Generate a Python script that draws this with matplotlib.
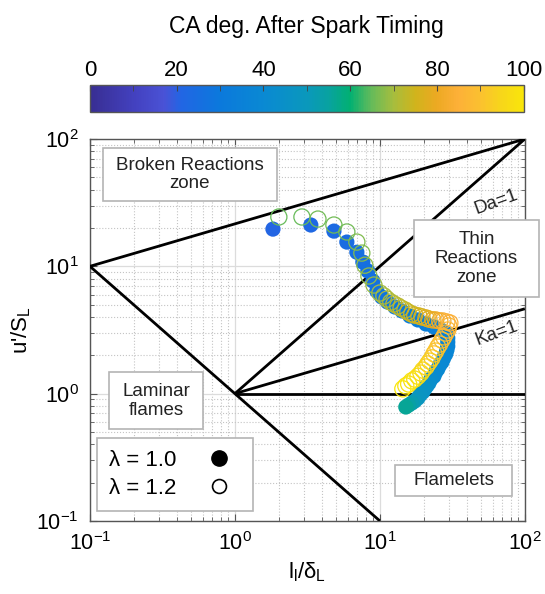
import numpy as np
import matplotlib
matplotlib.use("Agg")
import matplotlib.pyplot as plt
from matplotlib.colors import LinearSegmentedColormap
from matplotlib.lines import Line2D
from matplotlib.patches import Rectangle
from matplotlib.ticker import LogLocator, MultipleLocator

plt.rcParams['font.family'] = ['Liberation Sans', 'DejaVu Sans']
plt.rcParams['mathtext.default'] = 'regular'
plt.rcParams['axes.unicode_minus'] = False

# lambda = 1.0 (filled markers): l/delta_L, u'/S_L, CA deg after spark
x_lam10 = [1.83, 3.34, 4.82, 5.92, 6.94, 7.63, 8.26, 8.95, 9.53, 10.3,
           11.3, 12.7, 14.2, 16.1, 18.3, 20.8, 23.6, 26.4, 29.0,
           29.4, 29.4, 29.4, 29.0, 28.5, 27.6, 26.8, 25.9, 25.1, 24.3,
           23.6, 22.5, 21.8, 21.1, 20.4, 19.8, 18.9, 18.3, 17.4, 16.6,
           15.8, 15.1]
y_lam10 = [19.6, 21.1, 18.9, 15.5, 12.9, 10.8, 9.19, 7.67, 6.40, 5.74,
           5.24, 4.79, 4.46, 4.07, 3.79, 3.52, 3.34, 3.16, 2.94,
           2.73, 2.54, 2.36, 2.20, 2.05, 1.91, 1.77, 1.68, 1.56, 1.48,
           1.37, 1.30, 1.21, 1.15, 1.09, 1.03, 0.975, 0.923, 0.875, 0.843,
           0.813, 0.785]
c_lam10 = [21, 22, 23, 24, 25, 25, 26, 26, 27, 28,
           28, 29, 30, 31, 32, 33, 34, 35, 36,
           36, 37, 37, 38, 38, 39, 39, 40, 40, 41,
           41, 42, 43, 44, 45, 46, 47, 48, 50, 52,
           54, 56]

# lambda = 1.2 (open markers)
x_lam12 = [2.01, 2.90, 3.74, 4.82, 5.92, 6.94, 7.51, 7.88, 8.40, 9.10,
           10.0, 10.66, 11.2, 11.9, 12.5, 13.3, 14.0, 14.9, 15.6, 16.6,
           17.4, 18.6, 19.5, 20.8, 21.8, 23.2, 24.3, 25.9, 27.2, 29.0,
           30.4,
           29.9, 29.4, 28.5, 27.6, 26.8, 25.9, 25.1, 24.3, 23.6, 22.9,
           22.1, 21.4, 20.8, 19.8, 19.2, 18.3, 17.4, 16.6, 15.8, 15.1,
           14.4]
y_lam12 = [24.4, 24.4, 23.5, 21.1, 18.6, 15.5, 12.7, 10.2, 8.39, 7.13,
           6.17, 5.85, 5.53, 5.24, 5.06, 4.88, 4.70, 4.54, 4.38, 4.22,
           4.14, 4.07, 4.00, 3.93, 3.85, 3.79, 3.79, 3.72, 3.72, 3.65,
           3.59,
           3.40, 3.16, 2.99, 2.79, 2.64, 2.45, 2.32, 2.16, 2.05, 1.91,
           1.80, 1.71, 1.62, 1.53, 1.45, 1.37, 1.30, 1.26, 1.19, 1.15,
           1.09]
c_lam12 = [65, 65, 66, 66, 66, 67, 67, 68, 68, 69,
           70, 70, 71, 71, 72, 72, 73, 73, 74, 74,
           75, 75, 76, 77, 78, 79, 80, 82, 83, 84,
           85,
           86, 87, 87, 88, 89, 89, 90, 91, 91, 92,
           93, 93, 94, 95, 96, 97, 97, 98, 99, 99,
           100]

# regime boundaries (x pairs, y pairs)
regime_lines = {
    'Re=1':   ([0.1, 10], [10, 0.1]),
    'Ka=100': ([0.1, 100], [10, 100]),
    'Da=1':   ([1, 100], [1, 100]),
    'Ka=1':   ([1, 100], [1, 4.64]),
    "u'=SL":  ([1, 100], [1, 1]),
}

cb_ticks = [0, 20, 40, 60, 80, 100]

cmap = LinearSegmentedColormap.from_list('ca', [
    (0.00, '#382e92'), (0.10, '#4341bf'), (0.17, '#4a52d6'),
    (0.21, '#2166e4'), (0.30, '#0b79dc'), (0.40, '#0a89d3'),
    (0.50, '#0a98bc'), (0.55, '#08a2a0'), (0.60, '#02b072'),
    (0.65, '#66bb5a'), (0.70, '#a6bd3e'), (0.75, '#d0b41c'),
    (0.80, '#eca922'), (0.85, '#fdb038'), (0.90, '#fbc030'),
    (0.95, '#f7d61a'), (1.00, '#f9e60a')])

fig = plt.figure(figsize=(5.45, 5.94), dpi=100)
ax = fig.add_axes([0.165, 0.123, 0.798, 0.643])

for name, (xs, ys) in regime_lines.items():
    ax.plot(xs, ys, color='black', lw=2.0, zorder=3, solid_capstyle='butt')

sc = ax.scatter(x_lam10, y_lam10, c=c_lam10, cmap=cmap, vmin=0, vmax=100,
                s=120, edgecolors='none', zorder=4)
ax.scatter(x_lam12, y_lam12, facecolors='none',
           edgecolors=cmap(np.array(c_lam12) / 100.0),
           s=135, linewidths=0.9, zorder=5)

ax.set_xscale('log')
ax.set_yscale('log')
ax.set_xlim(0.1, 100)
ax.set_ylim(0.1, 100)
ax.xaxis.set_minor_locator(LogLocator(base=10, subs=np.arange(2, 10)))
ax.yaxis.set_minor_locator(LogLocator(base=10, subs=np.arange(2, 10)))
ax.grid(True, which='major', color='#dcdcdc', lw=0.9, ls='-')
ax.grid(True, which='minor', color='#c4c4c4', lw=0.8, ls=':')
ax.set_axisbelow(True)
ax.tick_params(which='both', direction='in', top=True, right=True,
               colors='#555555', labelcolor='black', labelsize=15.5)
ax.tick_params(which='major', length=5, pad=8)
ax.tick_params(which='minor', length=3)
for sp in ax.spines.values():
    sp.set_color('#555555')
    sp.set_linewidth(1.0)

ax.set_xlabel('l$_l$/δ$_L$', fontsize=16, labelpad=4)
ax.set_ylabel("u'/S$_L$", fontsize=16, labelpad=2)

# region labels with boxes (axes fraction)
boxes = [
    ('Broken Reactions\nzone', (0.030, 0.838, 0.400, 0.139), (0.230, 0.907)),
    ('Thin\nReactions\nzone', (0.745, 0.586, 0.287, 0.202), (0.889, 0.687)),
    ('Laminar\nflames', (0.044, 0.241, 0.216, 0.149), (0.152, 0.315)),
    ('Flamelets', (0.701, 0.065, 0.269, 0.081), (0.836, 0.106)),
]
for txt, (bx, by, bw, bh), (tx, ty) in boxes:
    ax.add_patch(Rectangle((bx, by), bw, bh, transform=ax.transAxes,
                           fc='white', ec='#b4b4b4', lw=1.2, zorder=6,
                           clip_on=False))
    ax.text(tx, ty, txt, transform=ax.transAxes, ha='center', va='center',
            fontsize=13.5, linespacing=1.15, zorder=7, color='#222222')

ax.text(0.935, 0.835, 'Da=1', transform=ax.transAxes, rotation=20,
        ha='center', va='center', fontsize=13.5, color='#222222', zorder=7)
ax.text(0.935, 0.492, 'Ka=1', transform=ax.transAxes, rotation=20,
        ha='center', va='center', fontsize=13.5, color='#222222', zorder=7)

handles = [Line2D([], [], ls='', marker='o', ms=11, mfc='black', mec='black'),
           Line2D([], [], ls='', marker='o', ms=10, mfc='white', mec='black',
                  mew=1.2)]
leg = ax.legend(handles, ['λ = 1.0', 'λ = 1.2'], loc='lower left',
                bbox_to_anchor=(0.016, 0.026), borderaxespad=0,
                markerfirst=False, fontsize=16, frameon=True, fancybox=False,
                edgecolor='#b4b4b4', framealpha=1, handletextpad=0.9,
                handlelength=2.0, labelspacing=0.3, borderpad=0.55)
leg.get_frame().set_linewidth(1.2)
leg.set_zorder(8)

# colorbar on top
cax = fig.add_axes([0.165, 0.811, 0.796, 0.046])
cb = fig.colorbar(sc, cax=cax, orientation='horizontal', ticks=cb_ticks)
cax.xaxis.set_ticks_position('top')
cax.xaxis.set_label_position('top')
cax.xaxis.set_minor_locator(MultipleLocator(10))
cax.tick_params(which='both', direction='in', length=4, colors='#444444',
                labelcolor='black', labelsize=16, pad=3)
cb.outline.set_edgecolor('#555555')
cb.outline.set_linewidth(1.0)
fig.text(0.562, 0.956, 'CA deg. After Spark Timing', ha='center',
         va='center', fontsize=16.5)

fig.savefig('out.png', dpi=100)
